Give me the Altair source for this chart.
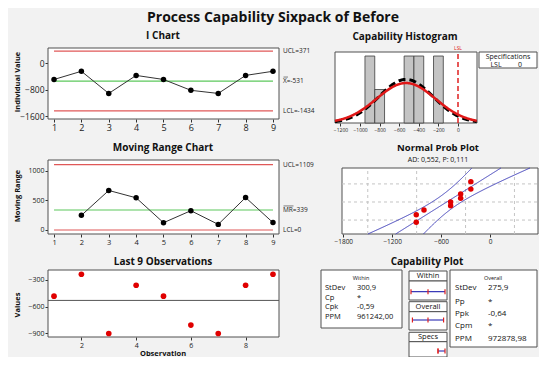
import altair as alt
import pandas as pd

# ---------------- data ----------------
obs = [1, 2, 3, 4, 5, 6, 7, 8, 9]
values = [-483, -235, -905, -360, -483, -810, -905, -360, -235]
mr_obs = [2, 3, 4, 5, 6, 7, 8, 9]
mr_values = [248, 670, 545, 123, 327, 95, 550, 125]
i_ucl, i_mean, i_lcl = 371, -531, -1434
mr_ucl, mr_mean, mr_lcl = 1109, 339, 0
hist_bin_start = [-950, -850, -550, -450, -250]
hist_counts = [2, 1, 2, 2, 2]
hist_bin_width = 100
lsl = 0
sd_within = 300.9
sd_overall = 275.9
n_obs = 9
i_xticks = [1, 2, 3, 4, 5, 6, 7, 8, 9]
i_yticks = [0, -800, -1600]
mr_yticks = [0, 500, 1000]
l9_xticks = [2, 4, 6, 8]
l9_yticks = [-300, -600, -900]
hist_xticks = [-1200, -1000, -800, -600, -400, -200, 0]
prob_xticks = [-1800, -1200, -600, 0]
prob_xgrid = [-1500, -900, -300, 300]
prob_ygrid_p = [0.1, 0.5, 0.9]
prob_text = "AD: 0,552, P: 0,111"
within_names = ["StDev", "Cp", "Cpk", "PPM"]
within_stats = ["300,9", "*", "-0,59", "961242,00"]
overall_names = ["StDev", "Pp", "Ppk", "Cpm", "PPM"]
overall_stats = ["275,9", "*", "-0,64", "*", "972878,98"]

# ---------------- layout (page pixels) ----------------
M = 8
W, H = 531, 349
FONT = "Open Sans"
RED = "#e05858"
GREEN = "#5cc85c"
BLUE = "#3a3ab8"
FRAME = "#505050"

I_BOX = (48, 279, 48, 119)
MR_BOX = (48, 279, 160, 234)
L9_BOX = (48, 279, 270, 337)
H_BOX = (335, 477, 52, 123)
P_BOX = (342, 538, 168, 234)

I_XD = [0.78, 9.22]
I_YD = [-1677, 468]
MR_YD = [-68, 1186]
L9_YD = [-945, -187]
H_XD = [-1256, 194]
H_YD = [0, 2.12]
P_XD = [-1816, 589]
P_YD = [-2.27, 2.41]
CAP_XD = [i_mean - 3 * sd_within, i_mean + 3 * sd_within]
CAP_XR = [411 - M, 445 - M]

PX = alt.Scale(domain=[0, 547], range=[-M, 547 - M], nice=False, zero=False)
PY = alt.Scale(domain=[0, 365], range=[-M, 365 - M], nice=False, zero=False)


def sx(box, dom):
    return alt.Scale(domain=dom, range=[box[0] - M, box[1] - M], nice=False, zero=False)


def sy(box, dom):
    return alt.Scale(domain=dom, range=[box[3] - M, box[2] - M], nice=False, zero=False)


def ax_bottom(box, vals, size=8, pad=1):
    return alt.Axis(orient="bottom", offset=(box[3] - M) - H, values=vals, format="d",
                    title=None, domain=False, grid=False, tickSize=3, tickColor="#333",
                    labelFont=FONT, labelFontSize=size, labelColor="#222", labelPadding=pad,
                    labelOverlap=False, labelFlush=False)


def ax_left(box, vals, size=8):
    return alt.Axis(orient="left", offset=-(box[0] - M), values=vals, format="d",
                    title=None, domain=False, grid=False, tickSize=3, tickColor="#333",
                    labelFont=FONT, labelFontSize=size, labelColor="#222", labelPadding=1,
                    labelOverlap=False, labelFlush=False)


def frame(box, xd, yd, xa=None, ya=None):
    df = pd.DataFrame({"x0": [xd[0]], "x1": [xd[1]], "y0": [yd[0]], "y1": [yd[1]]})
    return alt.Chart(df).mark_rect(fill="white", stroke=FRAME, strokeWidth=1).encode(
        x=alt.X("x0:Q", scale=sx(box, xd), axis=xa), x2="x1",
        y=alt.Y("y0:Q", scale=sy(box, yd), axis=ya), y2="y1")


def label(x, y, text, size=8, weight="normal", align="center", color="#111", angle=0):
    df = pd.DataFrame({"x": [x], "y": [y], "t": [text]})
    return alt.Chart(df).mark_text(fontSize=size, fontWeight=weight, align=align,
                                   baseline="middle", color=color, angle=angle, font=FONT).encode(
        x=alt.X("x:Q", scale=PX, axis=None), y=alt.Y("y:Q", scale=PY, axis=None), text="t:N")


def box(x0, x1, y0, y1):
    df = pd.DataFrame({"x0": [x0], "x1": [x1], "y0": [y0], "y1": [y1]})
    return alt.Chart(df).mark_rect(fill="white", stroke=FRAME, strokeWidth=1).encode(
        x=alt.X("x0:Q", scale=PX, axis=None), x2="x1",
        y=alt.Y("y0:Q", scale=PY, axis=None), y2="y1")


def hrules(box_, xd, yd, ys, x0, x1, color, width=1.2, dash=None):
    df = pd.DataFrame({"v": ys, "a": [x0] * len(ys), "b": [x1] * len(ys)})
    kw = dict(color=color, strokeWidth=width)
    if dash:
        kw["strokeDash"] = dash
    return alt.Chart(df).mark_rule(**kw).encode(
        x=alt.X("a:Q", scale=sx(box_, xd), axis=None), x2="b",
        y=alt.Y("v:Q", scale=sy(box_, yd), axis=None))


def side_labels(box_, yd, ys, texts, size=6.5):
    df = pd.DataFrame({"v": ys, "t": texts})
    return alt.Chart(df).mark_text(fontSize=size, align="left", baseline="middle",
                                   color="#222", font=FONT).encode(
        x=alt.value(box_[1] + 4 - M), y=alt.Y("v:Q", scale=sy(box_, yd), axis=None), text="t:N")


def overline(box_, yd, v, width, size=6.5):
    # short bar drawn above the first letters of a side label (the "bar" of X-bar / MR-bar)
    df = pd.DataFrame({"v": [v]})
    return alt.Chart(df).mark_tick(orient="horizontal", color="#222", thickness=0.8, size=width,
                                   yOffset=-size * 0.62, xOffset=width / 2).encode(
        x=alt.value(box_[1] + 4.5 - M), y=alt.Y("v:Q", scale=sy(box_, yd), axis=None))


layers = []

# ---------- I chart ----------
layers.append(frame(I_BOX, I_XD, I_YD, ax_bottom(I_BOX, i_xticks, 9), ax_left(I_BOX, i_yticks, 8.5)))
layers.append(hrules(I_BOX, I_XD, I_YD, [i_ucl, i_lcl], 1, 9, RED))
layers.append(hrules(I_BOX, I_XD, I_YD, [i_mean], 1, 9, GREEN))
i_df = pd.DataFrame({"o": obs, "v": values})
i_enc = dict(x=alt.X("o:Q", scale=sx(I_BOX, I_XD), axis=None), y=alt.Y("v:Q", scale=sy(I_BOX, I_YD), axis=None))
layers.append(alt.Chart(i_df).mark_line(color="#333", strokeWidth=1).encode(**i_enc))
layers.append(alt.Chart(i_df).mark_circle(color="black", size=30, opacity=1).encode(**i_enc))
layers.append(side_labels(I_BOX, I_YD, [i_ucl, i_mean, i_lcl],
                          [f"UCL={i_ucl}", f"X={i_mean}", f"LCL={i_lcl}"]))
layers.append(overline(I_BOX, I_YD, i_mean, 4.5))

# ---------- Moving range chart ----------
layers.append(frame(MR_BOX, I_XD, MR_YD, ax_bottom(MR_BOX, i_xticks, 7.5), ax_left(MR_BOX, mr_yticks, 7)))
layers.append(hrules(MR_BOX, I_XD, MR_YD, [mr_ucl, mr_lcl], 1, 9, RED))
layers.append(hrules(MR_BOX, I_XD, MR_YD, [mr_mean], 1, 9, GREEN))
mr_df = pd.DataFrame({"o": mr_obs, "v": mr_values})
mr_enc = dict(x=alt.X("o:Q", scale=sx(MR_BOX, I_XD), axis=None), y=alt.Y("v:Q", scale=sy(MR_BOX, MR_YD), axis=None))
layers.append(alt.Chart(mr_df).mark_line(color="#333", strokeWidth=1).encode(**mr_enc))
layers.append(alt.Chart(mr_df).mark_circle(color="black", size=30, opacity=1).encode(**mr_enc))
layers.append(side_labels(MR_BOX, MR_YD, [mr_ucl, mr_mean, mr_lcl],
                          [f"UCL={mr_ucl}", f"MR={mr_mean}", f"LCL={mr_lcl}"]))
layers.append(overline(MR_BOX, MR_YD, mr_mean, 10))

# ---------- Last 9 observations ----------
layers.append(frame(L9_BOX, I_XD, L9_YD, ax_bottom(L9_BOX, l9_xticks, 7), ax_left(L9_BOX, l9_yticks, 7)))
layers.append(hrules(L9_BOX, I_XD, L9_YD, [i_mean], I_XD[0], I_XD[1], "#555", 1))
l9_enc = dict(x=alt.X("o:Q", scale=sx(L9_BOX, I_XD), axis=None), y=alt.Y("v:Q", scale=sy(L9_BOX, L9_YD), axis=None))
layers.append(alt.Chart(i_df).mark_circle(color="#e00000", size=32, opacity=1).encode(**l9_enc))

# ---------- Capability histogram ----------
layers.append(frame(H_BOX, H_XD, H_YD, ax_bottom(H_BOX, hist_xticks, 5), None))
h_df = pd.DataFrame({"s": hist_bin_start, "c": hist_counts})
layers.append(alt.Chart(h_df).transform_calculate(e=f"datum.s + {hist_bin_width}", z="0").mark_rect(
    fill="#c4c4c4", stroke="#3c3c3c", strokeWidth=0.8).encode(
    x=alt.X("s:Q", scale=sx(H_BOX, H_XD), axis=None), x2="e:Q",
    y=alt.Y("z:Q", scale=sy(H_BOX, H_YD), axis=None), y2="c:Q"))
curve = alt.Chart(alt.sequence(H_XD[0], H_XD[1] + 1, 4, as_="xv"))
layers.append(curve.transform_calculate(
    d=f"{n_obs * hist_bin_width} * densityNormal(datum.xv, {i_mean}, {sd_overall})").mark_line(
    color="black", strokeWidth=3, strokeDash=[7, 4]).encode(
    x=alt.X("xv:Q", scale=sx(H_BOX, H_XD), axis=None), y=alt.Y("d:Q", scale=sy(H_BOX, H_YD), axis=None)))
layers.append(curve.transform_calculate(
    d=f"{n_obs * hist_bin_width} * densityNormal(datum.xv, {i_mean}, {sd_within})").mark_line(
    color="#e01818", strokeWidth=2.5).encode(
    x=alt.X("xv:Q", scale=sx(H_BOX, H_XD), axis=None), y=alt.Y("d:Q", scale=sy(H_BOX, H_YD), axis=None)))
lsl_df = pd.DataFrame({"v": [lsl], "a": [H_YD[0]], "b": [H_YD[1]]})
layers.append(alt.Chart(lsl_df).mark_rule(color="#e02020", strokeWidth=1.5, strokeDash=[5, 3]).encode(
    x=alt.X("v:Q", scale=sx(H_BOX, H_XD), axis=None),
    y=alt.Y("a:Q", scale=sy(H_BOX, H_YD), axis=None), y2="b:Q"))
layers.append(alt.Chart(lsl_df).mark_text(text="LSL", fontSize=5, color="#e02020", font=FONT,
                                          baseline="bottom").encode(
    x=alt.X("v:Q", scale=sx(H_BOX, H_XD), axis=None), y=alt.value(H_BOX[2] - 1 - M)))
layers.append(box(479, 537, 52, 68))
layers.append(label(508, 57, "Specifications", 7))
layers.append(label(496, 65, "LSL", 7))
layers.append(label(520, 65, f"{lsl}", 7))

# ---------- Normal probability plot ----------
layers.append(frame(P_BOX, P_XD, P_YD, ax_bottom(P_BOX, prob_xticks, 6.5), None))
pgx = pd.DataFrame({"v": prob_xgrid, "a": [P_YD[0]] * len(prob_xgrid), "b": [P_YD[1]] * len(prob_xgrid)})
layers.append(alt.Chart(pgx).mark_rule(color="#c4c4c4", strokeDash=[3, 3], strokeWidth=1).encode(
    x=alt.X("v:Q", scale=sx(P_BOX, P_XD), axis=None),
    y=alt.Y("a:Q", scale=sy(P_BOX, P_YD), axis=None), y2="b:Q"))
pgy = pd.DataFrame({"p": prob_ygrid_p, "a": [P_XD[0]] * 3, "b": [P_XD[1]] * 3})
layers.append(alt.Chart(pgy).transform_calculate(z="quantileNormal(datum.p)").mark_rule(
    color="#c4c4c4", strokeDash=[3, 3], strokeWidth=1).encode(
    x=alt.X("a:Q", scale=sx(P_BOX, P_XD), axis=None), x2="b:Q",
    y=alt.Y("z:Q", scale=sy(P_BOX, P_YD), axis=None)))
zseq = alt.Chart(alt.sequence(P_YD[0], P_YD[1] + 0.01, 0.02, as_="z")).transform_calculate(
    fit=f"{i_mean} + datum.z * {sd_overall}",
    half=f"1.96 * {sd_overall} / sqrt({n_obs}) * sqrt(1 + datum.z * datum.z / 2)").transform_calculate(
    lo="datum.fit - datum.half", hi="datum.fit + datum.half")
for fld in ["lo", "fit", "hi"]:
    layers.append(zseq.mark_line(color=BLUE, strokeWidth=1).encode(
        x=alt.X(f"{fld}:Q", scale=sx(P_BOX, P_XD), axis=None),
        y=alt.Y("z:Q", scale=sy(P_BOX, P_YD), axis=None), order="z:Q"))
layers.append(alt.Chart(pd.DataFrame({"v": values})).transform_window(
    rank="row_number()", sort=[alt.SortField("v")]).transform_calculate(
    z=f"quantileNormal((datum.rank - 0.3) / ({n_obs} + 0.4))").mark_circle(
    color="#e00000", size=30, opacity=1).encode(
    x=alt.X("v:Q", scale=sx(P_BOX, P_XD), axis=None), y=alt.Y("z:Q", scale=sy(P_BOX, P_YD), axis=None)))

# ---------- Capability plot ----------
layers.append(box(321, 402, 270, 328))
layers.append(label(361, 277.5, "Within", 5.5))
for nm, st, yy in zip(within_names, within_stats, [288, 297.5, 307, 316.5]):
    layers.append(label(325, yy, nm, 7.5, align="left"))
    layers.append(label(357, yy, st, 7.5, align="left"))
layers.append(box(450, 537, 270, 347))
layers.append(label(493, 277.5, "Overall", 5.5))
for nm, st, yy in zip(overall_names, overall_stats, [288.3, 302.3, 314.3, 326, 339.3]):
    layers.append(label(455, yy, nm, 8, align="left"))
    layers.append(label(488, yy, st, 8, align="left"))
for (a, b) in [(271, 281), (281, 300), (301.7, 311.7), (311.7, 330), (332.3, 341.7), (341.7, 357)]:
    layers.append(box(409, 447, a, b))
layers.append(label(428, 276, "Within", 7.5))
layers.append(label(428, 306.7, "Overall", 7.5))
layers.append(label(428, 337, "Specs", 7.5))
cap_df = pd.DataFrame({
    "lo": [i_mean - 3 * sd_within, i_mean - 3 * sd_overall, lsl],
    "mid": [i_mean, i_mean, lsl],
    "hi": [i_mean + 3 * sd_within, i_mean + 3 * sd_overall, CAP_XD[1]],
    "y": [291.7, 320, 351],
})
cap_x = alt.Scale(domain=CAP_XD, range=CAP_XR, nice=False, zero=False)
layers.append(alt.Chart(cap_df).mark_rule(color=BLUE, strokeWidth=1.2).encode(
    x=alt.X("lo:Q", scale=cap_x, axis=None), x2="hi:Q", y=alt.Y("y:Q", scale=PY, axis=None)))
for fld in ["lo", "mid", "hi"]:
    layers.append(alt.Chart(cap_df).transform_calculate(t="datum.y - 2.5", b="datum.y + 2.5").mark_rule(
        color="#e02020", strokeWidth=1.2).encode(
        x=alt.X(f"{fld}:Q", scale=cap_x, axis=None), y=alt.Y("t:Q", scale=PY, axis=None), y2="b:Q"))

# ---------- titles ----------
layers.append(label(273, 17.5, "Process Capability Sixpack of Before", 14, "bold"))
layers.append(label(163, 36, "I Chart", 10, "bold"))
layers.append(label(163, 148, "Moving Range Chart", 10, "bold"))
layers.append(label(163, 262, "Last 9 Observations", 10, "bold"))
layers.append(label(405, 37, "Capability Histogram", 10, "bold"))
layers.append(label(438, 147.5, "Normal Prob Plot", 9.5, "bold"))
layers.append(label(438, 159.5, prob_text, 7))
layers.append(label(427, 262, "Capability Plot", 10, "bold"))
layers.append(label(18, 82, "Individual Value", 7.5, "bold", angle=270))
layers.append(label(18, 196, "Moving Range", 7.5, "bold", angle=270))
layers.append(label(18, 305, "Values", 7.5, "bold", angle=270))
layers.append(label(163, 354, "Observation", 7.5, "bold"))

chart = alt.layer(*layers).resolve_scale(x="independent", y="independent").properties(
    width=W, height=H, autosize=alt.AutoSizeParams(type="none"), padding=0,
    background="#f2f2f2").configure_view(stroke=None)

chart.save("out.html", embed_options={"renderer": "svg", "actions": False})
